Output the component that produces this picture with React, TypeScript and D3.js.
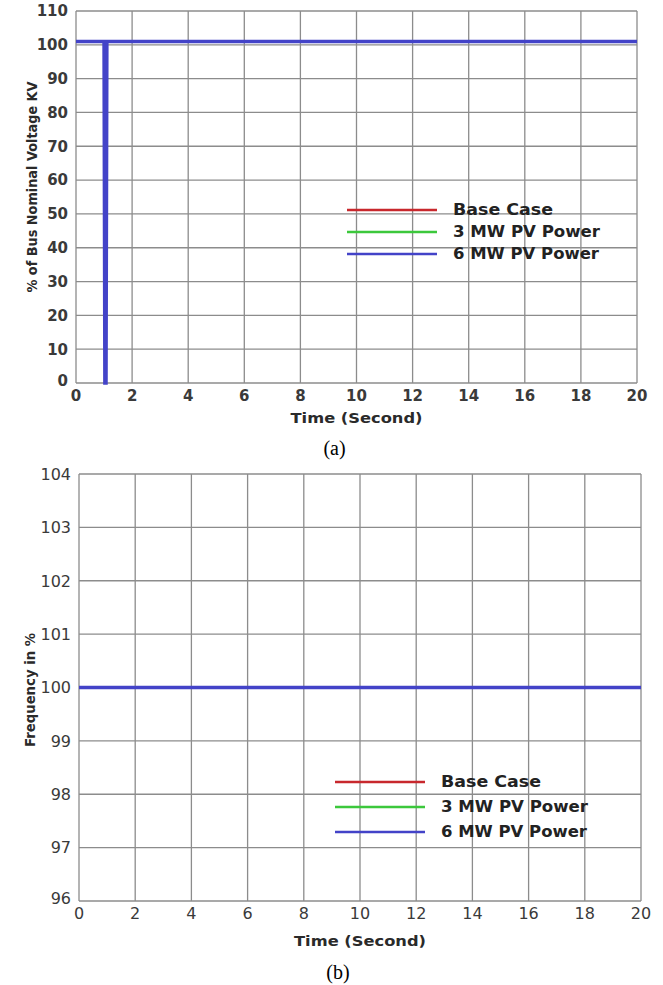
import * as d3 from "d3";

type Pt = [number, number];

const timeTicks = [0, 2, 4, 6, 8, 10, 12, 14, 16, 18, 20];
const voltageTicks = [0, 10, 20, 30, 40, 50, 60, 70, 80, 90, 100, 110];
const freqTicks = [96, 97, 98, 99, 100, 101, 102, 103, 104];

const seriesNames = ["Base Case", "3 MW PV Power", "6 MW PV Power"];
const seriesColors = ["#c8282d", "#3cc83c", "#4343c8"];

const voltageBase: Pt[] = [[0, 101], [20, 101]];
const voltage3MW: Pt[] = [[0, 101], [20, 101]];
const voltage6MW: Pt[] = [
  [0, 101], [1.0, 101], [1.03, 0], [1.07, 0], [1.1, 101], [20, 101],
];

const freqBase: Pt[] = [[0, 100], [20, 100]];
const freq3MW: Pt[] = [[0, 100], [20, 100]];
const freq6MW: Pt[] = [[0, 100], [20, 100]];

const FONT = "DejaVu Sans, Verdana, sans-serif";
const legendLengths = [100, 147, 146];

interface PanelProps {
  top: number;
  bottom: number;
  left: number;
  right: number;
  yDomain: [number, number];
  yTicks: number[];
  yLabel: string;
  yLabelX: number;
  yLabelY: number;
  yLabelLen: number;
  series: Pt[][];
  legendX: number;
  legendY: number;
  legendGap: number;
  legendTextX: number;
  caption: string;
  tickSize: number;
  tickWeight: number;
  xTickDy: number;
  titleDy: number;
  captionDy: number;
}

const Panel = (p: PanelProps) => {
  const x = d3.scaleLinear().domain([0, 20]).range([p.left, p.right]);
  const y = d3.scaleLinear().domain(p.yDomain).range([p.bottom, p.top]);
  const line = d3
    .line<Pt>()
    .x((d) => x(d[0]))
    .y((d) => y(d[1]));
  const midX = (p.left + p.right) / 2;

  return (
    <g>
      {timeTicks.map((t) => (
        <line key={"vx" + t} x1={x(t)} x2={x(t)} y1={p.top} y2={p.bottom} stroke="#8c8c8c" strokeWidth={1.3} />
      ))}
      {p.yTicks.map((t) => (
        <line key={"hy" + t} x1={p.left} x2={p.right} y1={y(t)} y2={y(t)} stroke="#8c8c8c" strokeWidth={1.3} />
      ))}
      {p.series.map((s, i) => (
        <path
          key={"s" + i}
          d={line(s)!}
          fill="none"
          stroke={seriesColors[i]}
          strokeWidth={i === 2 ? 3.5 : 2}
        />
      ))}
      {p.yTicks.map((t) => (
        <text
          key={"yt" + t}
          x={p.left - 8}
          y={y(t)}
          dy={t === p.yDomain[0] ? "0.2em" : "0.36em"}
          textAnchor="end"
          fontSize={p.tickSize}
          fontWeight={p.tickWeight}
          fill="#3a3a3a"
          fontFamily={FONT}
        >
          {t}
        </text>
      ))}
      {timeTicks.map((t) => (
        <text
          key={"xt" + t}
          x={x(t)}
          y={p.bottom + p.xTickDy}
          textAnchor="middle"
          fontSize={p.tickSize}
          fontWeight={p.tickWeight}
          fill="#3a3a3a"
          fontFamily={FONT}
        >
          {t}
        </text>
      ))}
      <text
        x={midX}
        y={p.bottom + p.titleDy}
        textAnchor="middle"
        fontSize={14}
        fontWeight="bold"
        fill="#2a2a2a"
        fontFamily={FONT}
        textLength={132}
        lengthAdjust="spacingAndGlyphs"
      >
        Time (Second)
      </text>
      <text
        transform={`translate(${p.yLabelX},${p.yLabelY}) rotate(-90)`}
        textAnchor="middle"
        fontSize={14}
        fontWeight="bold"
        fill="#2a2a2a"
        fontFamily={FONT}
        textLength={p.yLabelLen}
        lengthAdjust="spacingAndGlyphs"
      >
        {p.yLabel}
      </text>
      {seriesNames.map((name, i) => (
        <g key={name}>
          <line
            x1={p.legendX}
            x2={p.legendX + 90}
            y1={p.legendY + i * p.legendGap}
            y2={p.legendY + i * p.legendGap}
            stroke={seriesColors[i]}
            strokeWidth={2.5}
          />
          <text
            x={p.legendTextX}
            y={p.legendY + i * p.legendGap}
            dy="0.36em"
            fontSize={15}
            fontWeight="bold"
            fill="#222"
            fontFamily={FONT}
            textLength={legendLengths[i]}
            lengthAdjust="spacingAndGlyphs"
          >
            {name}
          </text>
        </g>
      ))}
      <text
        x={midX - 22}
        y={p.bottom + p.captionDy}
        textAnchor="middle"
        fontSize={20}
        fill="#000"
        fontFamily="Liberation Serif, Times New Roman, serif"
      >
        {p.caption}
      </text>
    </g>
  );
};

export default function App() {
  return (
    <svg width={663} height={985} style={{ position: "absolute", left: 0, top: 0, background: "#fff" }}>
      <rect width={663} height={985} fill="#fff" />
      <Panel
        top={11}
        bottom={383}
        left={76}
        right={637}
        yDomain={[0, 110]}
        yTicks={voltageTicks}
        yLabel="% of Bus Nominal Voltage KV"
        yLabelX={37}
        yLabelY={187}
        yLabelLen={211}
        series={[voltageBase, voltage3MW, voltage6MW]}
        legendX={347}
        legendY={210}
        legendGap={22}
        legendTextX={453}
        caption="(a)"
        tickSize={15}
        tickWeight={700}
        xTickDy={18}
        titleDy={40}
        captionDy={72}
      />
      <Panel
        top={474}
        bottom={901}
        left={79}
        right={641}
        yDomain={[96, 104]}
        yTicks={freqTicks}
        yLabel="Frequency in %"
        yLabelX={35}
        yLabelY={690}
        yLabelLen={114}
        series={[freqBase, freq3MW, freq6MW]}
        legendX={335}
        legendY={782}
        legendGap={25}
        legendTextX={441}
        caption="(b)"
        tickSize={16}
        tickWeight={400}
        xTickDy={18}
        titleDy={45}
        captionDy={78}
      />
    </svg>
  );
}
